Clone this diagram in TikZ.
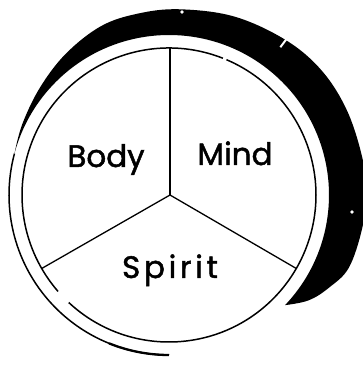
\documentclass[tikz,border=0pt]{standalone}
\usepackage{fontspec}
\setmainfont{Poppins}
\newfontfamily\sectorfont{Poppins}[FakeBold=1.5]
\newfontfamily\widesectorfont{Poppins}[FakeBold=1.5, LetterSpace=12]

\begin{document}
\begin{tikzpicture}[x=1pt, y=1pt,
  rim/.style={line width=1.5pt},
  spoke/.style={line width=1.3pt},
  sector/.style={font=\sectorfont\fontsize{31}{31}\selectfont, anchor=base, inner sep=0pt}]
  \clip (0,0) rectangle (363,375);

  \begin{scope}[shift={(169,180)}]
  % Shadow crescent
  \fill[black] plot[smooth, tension=0.6] coordinates {
      (165:160) (154:163) (140:168) (126:175) (112:182) (100:184)
      (87:186) (70:190) (53:194) (39:197) (25:197) (10:197) (0:197)
      (-10:196) (-22:194) (-30:185) (-37:175) (-43.5:160)}
    arc[start angle=-43.5, end angle=165, radius=160] -- cycle;
  \draw[white, line width=2pt] (53:185) -- (53:197);
  \fill[white] (13,183) circle (1.8);
  \fill[white] (183,-17) circle (1.8);

  % Outer ring
  \draw[rim] (165:160) arc[start angle=165, end angle=270, radius=160];
  \draw[line width=2.3pt] (248:160) arc[start angle=248, end angle=270, radius=160];

  % Inner circle
  \draw[rim] (227:147) arc[start angle=227, end angle=427, radius=147];
  \draw[rim] (68.5:147) arc[start angle=68.5, end angle=221, radius=147];

  % Spokes
  \coordinate (hub) at (1,0);
  \coordinate (top) at (1,147);
  \coordinate (left) at (210:147);
  \coordinate (right) at (330:147);
  \draw[spoke] (hub) -- (top);
  \draw[spoke] (hub) -- (left);
  \draw[spoke] (hub) -- (right);

  % Labels
  \node[sector] (body) at (-63,28) {Body};
  \node[sector] (mind) at (66,30) {Mind};
  \node[sector, font=\widesectorfont\fontsize{31}{31}\selectfont] (spirit) at (1,-83) {Spirit};
  \end{scope}
\end{tikzpicture}
\end{document}
